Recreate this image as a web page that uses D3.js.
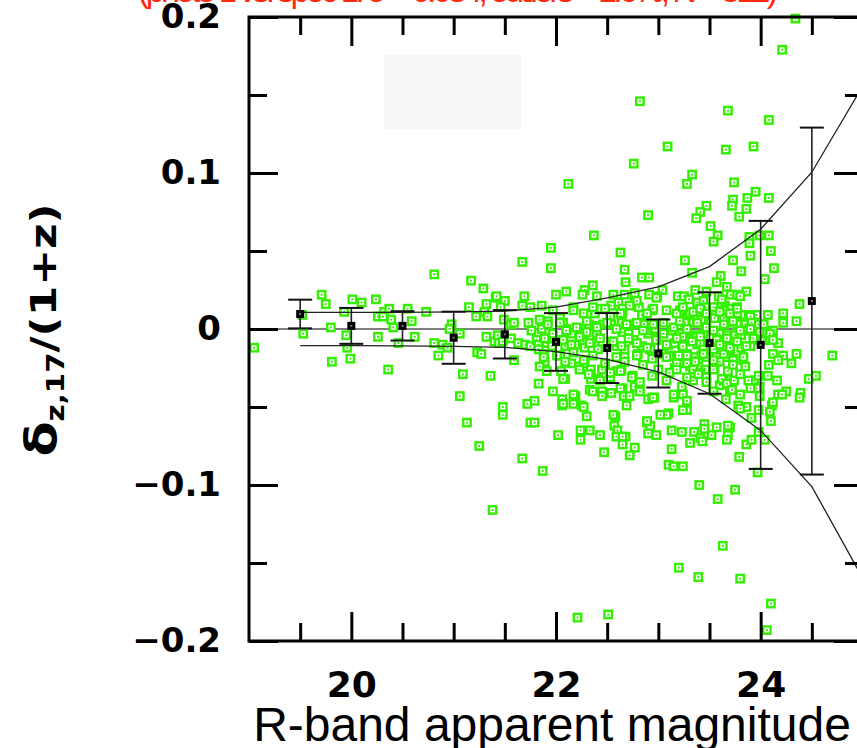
<!DOCTYPE html>
<html>
<head>
<meta charset="utf-8">
<script src="https://cdn.jsdelivr.net/npm/d3@7"></script>
<style>
  body { margin: 0; background: #fff; }
  svg { display: block; }
</style>
</head>
<body>
<div id="chart"></div>
<script>
// binned mean offset and scatter per magnitude bin
var binMag  = [19.5, 20.0, 20.5, 21.0, 21.5, 22.0, 22.5, 23.0, 23.5, 24.0, 24.5];
var binMean = [0.0096, 0.0020, 0.0020, -0.0056, -0.0034, -0.0083, -0.0122, -0.0157, -0.0090, -0.0102, 0.0179];
var binErr  = [0.0092, 0.0115, 0.0094, 0.0167, 0.0155, 0.0185, 0.0224, 0.0218, 0.0325, 0.0795, 0.1112];

// expected error envelope
var envMag   = [19.5, 20.0, 20.5, 21.0, 21.5, 22.0, 22.5, 23.0, 23.5, 24.0, 24.5, 25.0];
var envUpper = [0.0106, 0.0106, 0.0107, 0.0110, 0.0115, 0.0140, 0.0200, 0.0270, 0.0400, 0.0640, 0.1005, 0.156];
var envLower = [-0.0106, -0.0107, -0.0108, -0.0112, -0.0118, -0.0145, -0.0195, -0.0275, -0.0415, -0.0650, -0.1010, -0.160];

// tick values
var yMajor = [-0.2, -0.1, 0, 0.1, 0.2];
var yMinor = [-0.15, -0.05, 0.05, 0.15];
var xMajor = [20, 22, 24];
var xMinor = [19.5, 20.5, 21, 21.5, 22.5, 23, 23.5, 24.5];

var xTitle = "R-band apparent magnitude";
var topNote = "(photo-z vs. spec-z:  σ = 0.034,  outliers = 1.6%,  N = 812)";

// galaxies: [R mag, dz/(1+z)]
var galaxies = [
[20.81,0.035],[21.17,0.031],[21.29,0.026],[21.41,0.020],[19.71,0.022],[19.75,0.016],[20.01,0.019],[20.10,0.017],
[20.24,0.019],[19.93,0.011],[19.52,0.009],[20.32,0.011],[20.37,0.013],[20.26,0.008],[20.31,0.008],[20.39,0.006],
[20.55,0.013],[20.59,0.005],[20.73,0.011],[21.15,0.014],[21.32,0.016],[21.30,0.011],[21.22,0.008],[21.33,0.008],
[19.80,0.001],[19.53,-0.003],[19.95,-0.004],[19.96,-0.012],[20.41,0.001],[20.26,-0.005],[20.62,-0.005],[20.46,-0.009],
[20.98,0.003],[20.96,0.000],[21.06,-0.003],[20.81,-0.009],[20.89,-0.010],[20.94,-0.012],[20.85,-0.017],[21.32,-0.005],
[21.40,-0.008],[21.23,-0.015],[21.27,-0.016],[19.05,-0.012],[19.81,-0.021],[19.99,-0.019],[20.36,-0.026],[21.09,-0.029],
[21.36,-0.030],[21.06,-0.043],[21.13,-0.060],[21.25,-0.075],[21.38,-0.116],
[22.76,0.106],[22.12,0.093],[22.90,0.073],[22.37,0.060],[21.95,0.052],[22.63,0.049],[21.67,0.043],[21.95,0.039],
[22.67,0.038],[22.68,0.030],[22.84,0.033],[22.91,0.033],[22.36,0.028],[22.28,0.025],[22.26,0.022],[22.10,0.024],
[22.00,0.022],[21.69,0.021],[21.42,0.021],[22.40,0.021],[22.56,0.022],[22.77,0.023],[22.91,0.022],[21.50,0.018],
[21.67,0.015],[21.75,0.014],[21.86,0.015],[22.17,0.014],[22.27,0.010],[22.38,0.010],[22.44,0.013],[22.54,0.015],
[22.61,0.017],[22.65,0.013],[22.65,0.010],[22.77,0.017],[22.81,0.014],[22.84,0.009],[22.94,0.012],[21.46,0.014],
[21.49,0.006],[21.56,0.003],[21.59,0.004],[21.73,0.004],[21.76,-0.001],[21.84,0.006],[21.92,0.005],[21.86,0.000],
[22.04,0.007],[22.07,0.004],[22.10,0.000],[22.15,-0.003],[22.22,0.000],[22.32,0.003],[22.30,-0.002],[22.38,0.002],
[22.40,-0.003],[22.46,0.003],[22.54,0.003],[22.64,0.004],[22.65,-0.002],[22.71,-0.003],[22.77,0.003],[22.86,0.003],
[22.90,-0.003],[22.95,-0.001],[21.43,-0.004],[21.56,-0.006],[21.44,-0.009],[21.48,-0.008],[21.63,-0.009],[21.70,-0.010],
[21.75,-0.011],[21.81,-0.007],[21.83,-0.010],[21.91,-0.009],[21.83,-0.013],[21.88,-0.016],[22.06,-0.007],[22.09,-0.011],
[22.19,-0.010],[22.27,-0.008],[22.28,-0.012],[22.38,-0.009],[22.41,-0.013],[22.54,-0.008],[22.59,-0.011],[22.67,-0.013],
[22.76,-0.007],[22.84,-0.011],[22.80,-0.016],[22.92,-0.013],[22.94,-0.019],[22.67,-0.018],[21.59,-0.020],[21.89,-0.021],
[21.84,-0.024],[22.04,-0.017],[22.15,-0.022],[22.23,-0.024],[22.28,-0.022],[22.34,-0.026],[22.45,-0.026],[22.05,-0.027],
[22.09,-0.032],[22.34,-0.032],[22.41,-0.032],[22.53,-0.031],[22.59,-0.027],[22.64,-0.026],[22.75,-0.030],[22.94,-0.030],
[21.83,-0.035],[22.33,-0.039],[22.45,-0.040],[22.45,-0.043],[22.65,-0.038],[22.77,-0.037],[22.66,-0.043],[22.72,-0.043],
[22.90,-0.045],[22.94,-0.044],[21.79,-0.046],[21.72,-0.048],[21.48,-0.050],[21.48,-0.055],[22.06,-0.045],[22.06,-0.049],
[22.19,-0.043],[22.17,-0.048],[22.25,-0.049],[22.69,-0.049],[22.30,-0.056],[22.58,-0.056],[21.75,-0.060],[21.79,-0.060],
[22.89,-0.060],[22.24,-0.065],[22.33,-0.065],[22.57,-0.062],[22.60,-0.065],[22.59,-0.069],[22.68,-0.069],[22.65,-0.069],
[22.65,-0.074],[22.90,-0.067],[22.24,-0.071],[22.43,-0.068],[22.02,-0.068],[22.77,-0.076],[22.72,-0.081],[22.47,-0.079],
[21.67,-0.083],[21.87,-0.091],[22.51,-0.183],[22.21,-0.185],
[23.68,0.140],[24.08,0.134],[23.09,0.117],[23.66,0.115],[23.93,0.117],[23.33,0.099],[23.28,0.093],[23.74,0.094],
[23.95,0.088],[24.08,0.084],[23.87,0.084],[23.73,0.083],[23.72,0.079],[23.86,0.077],[23.79,0.072],[23.47,0.079],
[23.41,0.075],[23.37,0.071],[23.51,0.066],[23.58,0.060],[23.54,0.056],[23.89,0.059],[23.89,0.055],[23.99,0.060],
[24.08,0.060],[24.10,0.050],[24.13,0.039],[24.04,0.032],[23.26,0.044],[23.33,0.036],[23.73,0.044],[23.81,0.037],
[23.61,0.034],[23.57,0.030],[23.67,0.027],[23.36,0.025],[23.47,0.024],[23.19,0.021],[23.25,0.021],[23.30,0.019],
[23.38,0.017],[23.59,0.021],[23.71,0.022],[23.77,0.022],[23.86,0.024],[23.65,0.015],[23.69,0.013],[23.77,0.014],
[23.81,0.009],[23.90,0.009],[23.96,0.009],[24.07,0.009],[23.04,0.025],[22.99,0.021],[22.95,0.013],[23.08,0.012],
[23.21,0.012],[23.29,0.009],[23.41,0.009],[23.49,0.009],[23.55,0.007],[23.24,0.006],[23.34,0.004],[23.44,0.004],
[23.78,0.002],[23.85,0.003],[23.98,0.003],[24.03,0.003],[24.12,-0.001],[24.17,-0.009],[22.97,0.000],[23.05,-0.003],
[23.13,-0.001],[23.21,-0.003],[23.28,-0.001],[23.36,-0.004],[23.44,-0.003],[23.60,-0.003],[23.67,-0.004],[23.75,-0.004],
[23.85,-0.001],[23.93,-0.003],[23.94,-0.007],[24.03,-0.007],[24.09,-0.007],[22.98,-0.007],[23.10,-0.010],[23.16,-0.009],
[23.23,-0.010],[23.29,-0.007],[23.38,-0.010],[23.57,-0.007],[23.64,-0.011],[23.70,-0.013],[23.81,-0.012],[23.90,-0.011],
[24.12,-0.016],[24.08,-0.023],[22.92,-0.013],[23.05,-0.016],[23.11,-0.017],[23.20,-0.017],[23.28,-0.016],[23.36,-0.018],
[23.42,-0.017],[23.57,-0.017],[23.67,-0.018],[23.73,-0.019],[23.83,-0.020],[23.85,-0.024],[23.24,-0.022],[23.31,-0.024],
[23.39,-0.024],[23.46,-0.026],[23.55,-0.025],[23.68,-0.027],[23.16,-0.025],[23.11,-0.028],[23.00,-0.026],[23.34,-0.033],
[23.60,-0.036],[23.64,-0.033],[23.74,-0.033],[23.70,-0.039],[23.94,-0.033],[23.98,-0.030],[23.99,-0.037],[24.07,-0.030],
[24.16,-0.033],[24.17,-0.042],[23.23,-0.037],[23.24,-0.042],[23.28,-0.046],[23.15,-0.044],[22.96,-0.044],[23.28,-0.052],
[23.66,-0.045],[23.78,-0.049],[23.86,-0.050],[23.98,-0.052],[24.11,-0.049],[24.12,-0.047],[23.91,-0.057],[24.10,-0.059],
[23.10,-0.054],[23.08,-0.055],[22.92,-0.062],[22.98,-0.068],[23.13,-0.065],[23.23,-0.066],[23.35,-0.066],[23.45,-0.061],
[23.45,-0.064],[23.41,-0.070],[23.43,-0.072],[23.31,-0.073],[23.52,-0.068],[23.68,-0.068],[23.70,-0.063],[23.67,-0.071],
[23.86,-0.074],[23.91,-0.071],[23.98,-0.066],[24.04,-0.071],[23.13,-0.077],[23.79,-0.082],[23.10,-0.087],[23.15,-0.088],
[23.24,-0.088],[23.97,-0.092],[23.40,-0.100],[23.75,-0.103],[23.58,-0.109],[23.63,-0.139],[23.20,-0.153],[23.39,-0.159],
[23.80,-0.160],[24.10,-0.176],[24.06,-0.193],
[24.34,0.199],[24.21,0.179],[22.82,0.146],[23.90,0.047],
[24.38,0.016],[24.35,0.005],[24.22,0.004],[24.30,-0.022],[24.47,-0.032],[24.54,-0.030],[24.70,-0.017],[24.25,-0.040],
[24.21,-0.042],[24.39,-0.041],[24.38,-0.044],[24.22,0.010],
[23.80,0.021],[23.44,0.018],[23.46,0.014],[23.59,0.014],[23.64,0.012],[23.77,0.010],[23.90,0.008],[23.31,0.010],
[23.26,0.004],[23.38,0.008],[23.42,0.006],[23.67,0.004],[23.64,0.007],[23.77,0.003],[23.86,-0.001],[23.81,-0.004],
[23.91,0.004],[24.03,-0.003],[24.06,-0.002],[24.22,-0.017],[24.17,-0.020],[24.35,-0.016],[23.24,-0.005],[23.31,-0.007],
[23.38,-0.005],[23.41,-0.009],[23.44,-0.013],[23.47,-0.018],[23.28,-0.022],[23.34,-0.026],[23.41,-0.028],[23.47,-0.031],
[23.54,-0.013],[23.57,-0.018],[23.64,-0.016],[23.60,-0.021],[23.70,-0.012],[23.73,-0.020],[23.83,-0.018],[23.54,-0.026],
[23.96,-0.038],[23.99,-0.043],[23.68,-0.062],[24.09,-0.053],
[22.67,0.022],[22.79,0.018],[22.98,0.020],[23.62,0.019],[21.97,0.012],[22.17,0.012],[22.36,0.014],[22.48,0.013],
[22.53,0.008],[22.63,0.010],[22.72,0.015],[22.89,0.010],[23.18,0.010],[23.24,0.014],[23.34,0.011],[23.41,0.013],
[23.47,0.010],[23.54,0.014],[23.60,0.011],[23.70,0.010],[23.77,0.013],
[21.92,0.003],[22.04,0.004],[22.10,-0.001],[22.20,0.001],[22.30,0.005],[22.40,0.001],[22.50,0.004],[22.59,0.000],
[22.69,0.003],[22.79,0.004],[22.85,-0.001],[22.95,0.003],[23.05,0.004],[23.15,0.001],[23.21,0.005],[23.28,0.000],
[23.38,0.004],[23.47,0.001],[23.54,-0.001],[23.64,0.003],[23.73,0.005],[23.80,-0.001],[23.90,0.000],[23.99,-0.002],
[24.09,-0.003],[21.97,-0.003],
[21.89,-0.006],[21.96,-0.011],[22.07,-0.007],[22.15,-0.010],[22.23,-0.005],[22.33,-0.009],[22.43,-0.006],[22.56,-0.008],
[22.64,-0.011],[22.71,-0.006],[22.79,-0.009],[22.89,-0.012],[22.98,-0.007],[23.08,-0.010],[23.18,-0.006],[23.24,-0.011],
[23.33,-0.008],[23.41,-0.005],[23.60,-0.010],[23.67,-0.006],[23.77,-0.008],[23.86,-0.011],[23.93,-0.006],[24.12,-0.007],
[21.88,-0.018],[22.01,-0.017],[22.09,-0.021],[22.17,-0.015],[22.27,-0.020],[22.36,-0.017],[22.48,-0.022],[22.59,-0.018],
[22.67,-0.021],[22.79,-0.017],[22.85,-0.023],[23.08,-0.018],[23.18,-0.022],[23.28,-0.017],[23.36,-0.021],[23.44,-0.016],
[23.54,-0.020],[23.73,-0.023],
[21.91,-0.027],[22.07,-0.032],[22.23,-0.026],[22.32,-0.029],[22.43,-0.033],[22.53,-0.028],[22.63,-0.027],[22.74,-0.031],
[22.82,-0.034],[23.08,-0.033],[23.18,-0.026],[23.28,-0.031],[23.39,-0.029],[23.47,-0.034],[23.62,-0.032],[23.67,-0.035],
[23.80,-0.029],[23.88,-0.033],
[21.97,-0.040],[22.17,-0.042],[22.36,-0.040],[22.54,-0.041],[22.63,-0.038],[22.82,-0.040],[22.95,-0.044],[23.15,-0.042],
[23.54,-0.040],[23.72,-0.039],[23.80,-0.042],[23.90,-0.038],
[22.07,-0.048],[22.27,-0.050],[22.56,-0.055],[22.89,-0.059],[23.02,-0.055],[23.24,-0.052],[23.57,-0.063],[23.80,-0.051]
];

var W = 857, H = 748;

var svg = d3.select("#chart")
  .append("svg")
    .attr("width", W)
    .attr("height", H);

var x = d3.scaleLinear().domain([19, 25]).range([249, 863]);
var y = d3.scaleLinear().domain([-0.2, 0.2]).range([641, 17]);

// red note at the very top (cut off by the picture edge)
svg.append("text")
  .attr("x", 138)
  .attr("y", 2)
  .attr("textLength", 640)
  .attr("lengthAdjust", "spacing")
  .attr("font-family", "Liberation Sans, Arial, sans-serif")
  .attr("font-size", 34)
  .attr("fill", "#ff2a10")
  .text(topNote);

// faint empty legend box
svg.append("rect")
  .attr("x", x(20.32))
  .attr("y", y(0.176))
  .attr("width", x(21.66) - x(20.32))
  .attr("height", y(0.128) - y(0.176))
  .attr("fill", "#f7f7f7");

// zero line
svg.append("line")
  .attr("x1", x(19)).attr("x2", x(25))
  .attr("y1", y(0)).attr("y2", y(0))
  .attr("stroke", "#555")
  .attr("stroke-width", 1.6);

// galaxies
var green = "#33f000";
var pts = svg.append("g").selectAll("g.pt")
  .data(galaxies)
  .enter()
  .append("g")
    .attr("transform", function(d) { return "translate(" + x(d[0]) + "," + y(d[1]) + ")"; });
pts.append("rect")
  .attr("x", -3.7).attr("y", -3.7)
  .attr("width", 7.4).attr("height", 7.4)
  .attr("fill", "#fff")
  .attr("stroke", green)
  .attr("stroke-width", 2.4);
pts.append("rect")
  .attr("x", -1).attr("y", -1)
  .attr("width", 2).attr("height", 2)
  .attr("fill", green);

// error envelope
var envLine = d3.line()
  .x(function(d) { return x(d[0]); })
  .y(function(d) { return y(d[1]); });

svg.append("path")
  .datum(envMag.map(function(m, i) { return [m, envUpper[i]]; }))
  .attr("d", envLine)
  .attr("fill", "none")
  .attr("stroke", "#222")
  .attr("stroke-width", 1.3);
svg.append("path")
  .datum(envMag.map(function(m, i) { return [m, envLower[i]]; }))
  .attr("d", envLine)
  .attr("fill", "none")
  .attr("stroke", "#222")
  .attr("stroke-width", 1.3);

// binned means with error bars
var bins = binMag.map(function(m, i) { return {m: m, mean: binMean[i], err: binErr[i]}; });
var eb = svg.append("g").selectAll("g.bin")
  .data(bins)
  .enter()
  .append("g");

eb.append("line")
  .attr("x1", function(d) { return x(d.m); })
  .attr("x2", function(d) { return x(d.m); })
  .attr("y1", function(d) { return y(d.mean + d.err); })
  .attr("y2", function(d) { return y(d.mean - d.err); })
  .attr("stroke", "#222")
  .attr("stroke-width", 1.6);
[1, -1].forEach(function(s) {
  eb.append("line")
    .attr("x1", function(d) { return x(d.m) - 12; })
    .attr("x2", function(d) { return x(d.m) + 12; })
    .attr("y1", function(d) { return y(d.mean + s * d.err); })
    .attr("y2", function(d) { return y(d.mean + s * d.err); })
    .attr("stroke", "#111")
    .attr("stroke-width", 2);
});
eb.append("rect")
  .attr("x", function(d) { return x(d.m) - 4; })
  .attr("y", function(d) { return y(d.mean) - 4; })
  .attr("width", 8).attr("height", 8)
  .attr("fill", "#000");
eb.append("rect")
  .attr("x", function(d) { return x(d.m) - 1; })
  .attr("y", function(d) { return y(d.mean) - 1; })
  .attr("width", 2).attr("height", 2)
  .attr("fill", "#777");

// frame and ticks
var tickFont = "DejaVu Sans, Verdana, sans-serif";

function styleAxis(g) {
  g.select(".domain").remove();
  g.selectAll(".tick line").attr("stroke", "#000").attr("stroke-width", 3);
}

svg.append("g").attr("transform", "translate(" + x(19) + ",0)")
  .call(d3.axisLeft(y).tickValues(yMajor).tickSize(-29).tickPadding(28)
    .tickFormat(function(d) { return d === 0 ? "0" : d3.format(".1f")(d); }))
  .call(styleAxis)
  .selectAll("text")
    .attr("font-family", tickFont)
    .attr("font-weight", "bold")
    .attr("font-size", 34)
    .attr("fill", "#000");
svg.append("g").attr("transform", "translate(" + x(19) + ",0)")
  .call(d3.axisLeft(y).tickValues(yMinor).tickSize(-18).tickFormat(""))
  .call(styleAxis);

svg.append("g").attr("transform", "translate(" + x(25) + ",0)")
  .call(d3.axisRight(y).tickValues(yMajor).tickSize(-29).tickFormat(""))
  .call(styleAxis);
svg.append("g").attr("transform", "translate(" + x(25) + ",0)")
  .call(d3.axisRight(y).tickValues(yMinor).tickSize(-18).tickFormat(""))
  .call(styleAxis);

svg.append("g").attr("transform", "translate(0," + y(-0.2) + ")")
  .call(d3.axisBottom(x).tickValues(xMajor).tickSize(-29).tickPadding(30)
    .tickFormat(d3.format("d")))
  .call(styleAxis)
  .selectAll("text")
    .attr("font-family", tickFont)
    .attr("font-weight", "bold")
    .attr("font-size", 36)
    .attr("fill", "#000");
svg.append("g").attr("transform", "translate(0," + y(-0.2) + ")")
  .call(d3.axisBottom(x).tickValues(xMinor).tickSize(-18).tickFormat(""))
  .call(styleAxis);

svg.append("g").attr("transform", "translate(0," + y(0.2) + ")")
  .call(d3.axisTop(x).tickValues(xMajor).tickSize(-29).tickFormat(""))
  .call(styleAxis);
svg.append("g").attr("transform", "translate(0," + y(0.2) + ")")
  .call(d3.axisTop(x).tickValues(xMinor).tickSize(-18).tickFormat(""))
  .call(styleAxis);

svg.append("rect")
  .attr("x", x(19)).attr("y", y(0.2))
  .attr("width", x(25) - x(19))
  .attr("height", y(-0.2) - y(0.2))
  .attr("fill", "none")
  .attr("stroke", "#000")
  .attr("stroke-width", 3);

// axis titles
svg.append("text")
  .attr("x", 552)
  .attr("y", 741)
  .attr("text-anchor", "middle")
  .attr("font-family", "Liberation Sans, Arial, sans-serif")
  .attr("font-size", 48)
  .attr("fill", "#000")
  .text(xTitle);

var yt = svg.append("text")
  .attr("transform", "translate(56,330) rotate(-90) scale(1.22,1)")
  .attr("text-anchor", "middle")
  .attr("font-family", tickFont)
  .attr("font-weight", "bold")
  .attr("font-size", 36)
  .attr("fill", "#000");
yt.append("tspan").attr("font-size", 42).text("δ");
yt.append("tspan").attr("font-size", 24).attr("dy", 8).text("z,17");
yt.append("tspan").attr("dy", -8).text("/(1+z)");
</script>
</body>
</html>
